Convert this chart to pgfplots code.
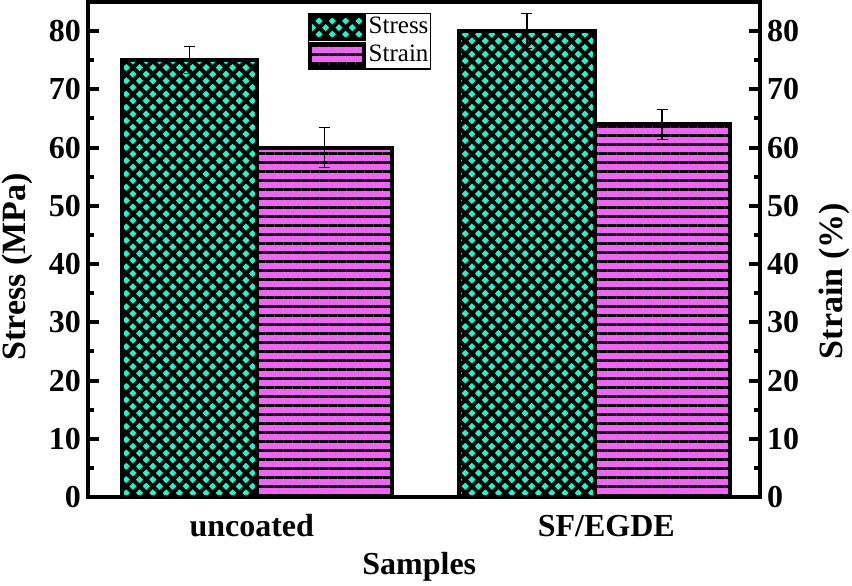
\documentclass[border=0pt]{standalone}
\usepackage{pgfplots}
\pgfplotsset{compat=1.18}
\usepackage{fontspec}
\setmainfont{Liberation Serif}
\usetikzlibrary{patterns.meta}
\definecolor{stresscol}{RGB}{30,245,200}
\definecolor{straincol}{RGB}{240,100,245}
\begin{document}
\begin{tikzpicture}
\pgfplotsset{
  common/.style={
    width=336pt, height=247.5pt, scale only axis,
    xmin=0.5, xmax=2.49, ymin=0, ymax=85,
    ytick={0,10,...,80}, minor y tick num=1,
    axis line style={line width=2pt},
    major tick length=5.5pt, minor tick length=3pt,
    major tick style={line width=2pt,black},
    minor tick style={line width=2pt,black},
    tick align=inside,
    /pgf/number format/assume math mode=true,
    ticklabel style={font=\fontsize{16}{19}\selectfont\bfseries},
    label style={font=\fontsize{17}{20}\selectfont\bfseries, inner sep=0pt},
  }
}
\begin{axis}[common,
  ytick pos=left,
  xtick={0.985,2.035}, xticklabels={uncoated,SF/EGDE},
  xtick style={draw=none},
  xticklabel style={anchor=base, yshift=-14.5pt},
  ylabel={Stress (MPa)},
  xlabel={Samples},
  ylabel style={at={(axis description cs:-0.1057,0.465)}, rotate=0, anchor=center},
  xlabel style={at={(axis description cs:0.493,-0.1576)}, anchor=base, font=\fontsize{16}{19}\selectfont\bfseries},
  ybar, bar width=0.4, bar shift=0pt,
  legend image code/.code={\draw[#1] (0pt,-5.75pt) rectangle (27pt,5.75pt);},
  legend style={at={(0.327,0.978)}, anchor=north west, draw=black, line width=0.6pt,
    inner xsep=0pt, inner ysep=0pt,
    font=\fontsize{12.5}{14}\selectfont,
    nodes={inner sep=1.2pt, text height=9pt, text depth=2.5pt},
    /tikz/every even column/.append style={column sep=1pt}},
  legend cell align=left,
  error bars/error bar style={line width=0.6pt, black},
  error bars/error mark options={rotate=90, mark size=2.75pt, line width=0.6pt, black},
]
\addplot[draw=black, line width=2pt,
  preaction={fill=stresscol},
  preaction={pattern={Lines[angle=45,distance=4.7pt,line width=2pt]}, pattern color=black},
  pattern={Lines[angle=-45,distance=4.7pt,line width=2pt]}, pattern color=black,
  error bars/.cd, y dir=both, y explicit]
  coordinates {(0.8,75) +- (0,2.3) (1.8,80) +- (0,3.0)};
\addlegendentry{Stress}
\addplot[draw=black, line width=2pt,
  preaction={fill=straincol},
  pattern={Lines[angle=0,distance=4.5pt,line width=1.5pt]}, pattern color=black,
  error bars/.cd, y dir=both, y explicit]
  coordinates {(1.2,60) +- (0,3.4) (2.2,64) +- (0,2.6)};
\addlegendentry{Strain}
\coordinate (sw) at (rel axis cs:0,0);
\coordinate (ne) at (rel axis cs:1,1);
\end{axis}
\begin{axis}[common,
  axis x line=none, axis y line*=right,
  ylabel={Strain (\%)},
  ylabel style={at={(axis description cs:1.110,0.436)}, rotate=0, anchor=center},
]
\addplot[draw=none] coordinates {(1,0)};
\end{axis}
\pgfresetboundingbox
\useasboundingbox ([shift={(-44pt,-44.5pt)}]sw) rectangle ([shift={(46pt,1pt)}]ne);
\end{tikzpicture}
\end{document}
